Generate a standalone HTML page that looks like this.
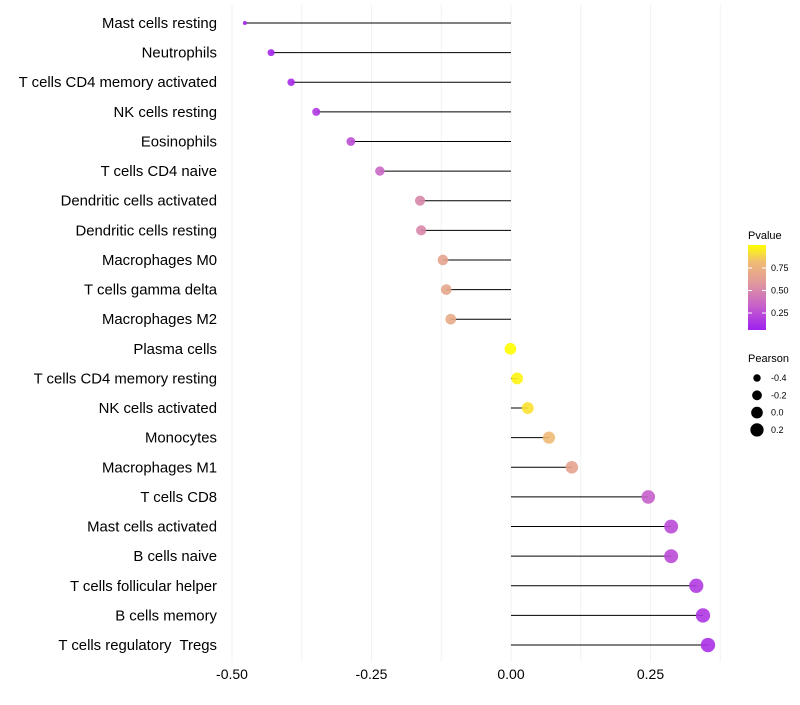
<!DOCTYPE html>
<html><head><meta charset="utf-8"><style>
body{margin:0;background:#fff;font-family:"Liberation Sans",sans-serif}
svg text{font-family:"Liberation Sans",sans-serif;white-space:pre}
</style></head><body>
<svg id="c" width="800" height="700">
<defs><linearGradient id="pg" x1="0" y1="1" x2="0" y2="0">
<stop offset="0" stop-color="#a020f0"/><stop offset="0.3" stop-color="#c864c8"/>
<stop offset="0.55" stop-color="#e0989c"/><stop offset="0.8" stop-color="#f0bc74"/>
<stop offset="1" stop-color="#ffff00"/></linearGradient></defs>
</svg>
<script>
const cells=["Mast cells resting","Neutrophils","T cells CD4 memory activated","NK cells resting","Eosinophils","T cells CD4 naive","Dendritic cells activated","Dendritic cells resting","Macrophages M0","T cells gamma delta","Macrophages M2","Plasma cells","T cells CD4 memory resting","NK cells activated","Monocytes","Macrophages M1","T cells CD8","Mast cells activated","B cells naive","T cells follicular helper","B cells memory","T cells regulatory  Tregs"];
const pearson=[-0.477,-0.430,-0.394,-0.349,-0.287,-0.235,-0.163,-0.161,-0.122,-0.116,-0.108,-0.001,0.011,0.030,0.068,0.109,0.246,0.287,0.287,0.332,0.344,0.353];
const pvalue=[0.07,0.09,0.11,0.16,0.25,0.36,0.5,0.5,0.65,0.67,0.7,1.0,0.97,0.92,0.8,0.65,0.32,0.24,0.24,0.17,0.15,0.13];
const xTicks=[-0.5,-0.25,0,0.25];
const xTickLabels=["-0.50","-0.25","0.00","0.25"];
const pTicks=[0.25,0.5,0.75];
const sizeTicks=[-0.4,-0.2,0.0,0.2];
const NS="http://www.w3.org/2000/svg",svg=document.getElementById('c');
const x=v=>511+v*558, y=i=>23+i*29.62;
const rad=v=>v<-0.46?2:Math.sqrt(Math.max(1,34+50.5*v));
const stops=[[0,[160,32,240]],[0.3,[200,100,200]],[0.55,[224,152,156]],[0.8,[240,188,116]],[1,[255,255,0]]];
function col(p){let t=(p-0.06)/(0.94);t=Math.max(0,Math.min(1,t));for(let k=1;k<stops.length;k++){if(t<=stops[k][0]){const a=stops[k-1],b=stops[k],f=(t-a[0])/(b[0]-a[0]);return 'rgb('+a[1].map((c,j)=>Math.round(c+(b[1][j]-c)*f)).join(',')+')';}}return 'rgb(255,255,0)';}
function el(t,a,txt){const e=document.createElementNS(NS,t);for(const k in a)e.setAttribute(k,a[k]);if(txt!=null)e.textContent=txt;svg.appendChild(e);return e;}
for(let v=-0.5;v<=0.376;v+=0.125){const g=el('line',{x1:x(v),x2:x(v),y1:5,y2:662,stroke:'#f2f2f2','stroke-width':1});

}
xTicks.forEach((v,i)=>{const t=el('text',{x:x(v),y:679,'font-size':14,'text-anchor':'middle',fill:'#000'},xTickLabels[i]);

});
cells.forEach((c,i)=>{
const l=el('text',{x:217,y:y(i)+5,'font-size':14.9,'text-anchor':'end',fill:'#000'},c);


const s=el('line',{x1:x(0),x2:x(pearson[i]),y1:y(i),y2:y(i),stroke:'#000','stroke-width':1});


const d=el('circle',{cx:x(pearson[i]),cy:y(i),r:rad(pearson[i]),fill:col(pvalue[i]),opacity:0.9});


});
const lt=el('text',{x:748,y:239,'font-size':11,fill:'#000'},'Pvalue');

const bar=el('rect',{x:748,y:245,width:18,height:85,fill:'url(#pg)'});

pTicks.forEach(p=>{const yy=335.5-p*90;el('line',{x1:748,x2:752,y1:yy,y2:yy,stroke:'#fff'});el('line',{x1:762,x2:766,y1:yy,y2:yy,stroke:'#fff'});
const t=el('text',{x:771,y:yy+3,'font-size':9,fill:'#000'},p.toFixed(2));
});
const st=el('text',{x:748,y:362,'font-size':11,fill:'#000'},'Pearson');

sizeTicks.forEach((v,i)=>{const yy=378+i*17.3;
const c=el('circle',{cx:757,cy:yy,r:rad(v),fill:'#000'});

const t=el('text',{x:771,y:yy+3,'font-size':9,fill:'#000'},v.toFixed(1));
});
</script>
</body></html>
